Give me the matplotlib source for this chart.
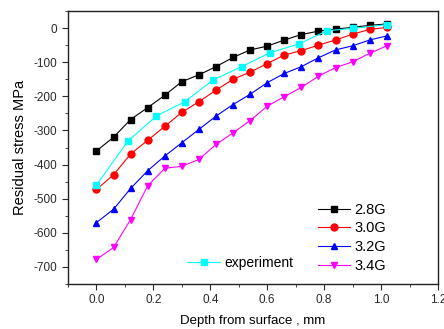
import numpy as np
import matplotlib
matplotlib.use("Agg")
import matplotlib.pyplot as plt
from matplotlib.ticker import MultipleLocator, FormatStrFormatter

plt.rcParams['font.family'] = ['Liberation Sans', 'DejaVu Sans']
plt.rcParams['axes.unicode_minus'] = False

# depth points for the simulated curves (mm)
depth = [0.00, 0.06, 0.12, 0.18, 0.24, 0.30, 0.36, 0.42, 0.48,
         0.54, 0.60, 0.66, 0.72, 0.78, 0.84, 0.90, 0.96, 1.02]

s_28 = [-360, -320, -268, -233, -197, -157, -137, -113, -86,
        -64, -53, -35, -19, -9, -3, 2, 8, 12]
s_30 = [-473, -430, -369, -329, -288, -247, -216, -182, -150,
        -129, -104, -79, -66, -50, -35, -18, -4, 2]
s_32 = [-570, -531, -470, -418, -375, -336, -297, -258, -224,
        -194, -160, -133, -113, -87, -64, -52, -35, -23]
s_34 = [-678, -643, -561, -462, -411, -405, -385, -341, -307,
        -271, -229, -201, -174, -141, -116, -99, -74, -52]

# measured values
exp_depth = [0.00, 0.11, 0.21, 0.31, 0.41, 0.51, 0.61, 0.71, 0.81, 0.90, 1.02]
exp_val = [-460, -332, -258, -216, -152, -113, -72, -47, -8, -1, 10]

fig = plt.figure(figsize=(4.44, 3.29), dpi=100)
ax = fig.add_subplot(111)
fig.subplots_adjust(left=68/444, right=438/444, top=1-11/329, bottom=1-284/329)

ms = 5
lw = 0.8
l1, = ax.plot(depth, s_28, '-s', color='black', mfc='black', mec='black', ms=ms, lw=lw, label='2.8G')
l2, = ax.plot(depth, s_30, '-o', color='red', mfc='red', mec='red', ms=ms, lw=lw, label='3.0G')
l3, = ax.plot(depth, s_32, '-^', color='blue', mfc='blue', mec='blue', ms=ms, lw=lw, label='3.2G')
l4, = ax.plot(depth, s_34, '-v', color='magenta', mfc='magenta', mec='magenta', ms=ms, lw=lw, label='3.4G')
le, = ax.plot(exp_depth, exp_val, '-s', color='cyan', mfc='cyan', mec='cyan', ms=ms, lw=lw, label='experiment')

ax.set_xlim(-0.1, 1.2)
ax.set_ylim(-750, 50)
ax.xaxis.set_major_locator(MultipleLocator(0.2))
ax.xaxis.set_minor_locator(MultipleLocator(0.1))
ax.xaxis.set_major_formatter(FormatStrFormatter('%.1f'))
ax.yaxis.set_major_locator(MultipleLocator(100))
ax.yaxis.set_minor_locator(MultipleLocator(50))
ax.tick_params(which='both', direction='out', top=False, right=False, labelsize=8.5, colors='#2a2a2a')
ax.tick_params(which='major', length=4)
ax.tick_params(which='minor', length=2.5)
for s in ax.spines.values():
    s.set_linewidth(1.0)
    s.set_color('#222222')

ax.set_xlabel('Depth from surface , mm', fontsize=9.5, labelpad=6)
ax.set_ylabel('Residual stress MPa', fontsize=10.5, labelpad=5)

leg1 = ax.legend(handles=[l1, l2, l3, l4], loc='upper left', bbox_to_anchor=(0.676, 0.298),
                 frameon=False, fontsize=10.5, borderpad=0, borderaxespad=0,
                 handlelength=2.2, handletextpad=0.3, labelspacing=0.33)
ax.add_artist(leg1)
ax.legend(handles=[le], loc='upper left', bbox_to_anchor=(0.322, 0.103),
          frameon=False, fontsize=10, borderpad=0, borderaxespad=0,
          handlelength=2.4, handletextpad=0.3)

fig.savefig('out.png', dpi=100)
